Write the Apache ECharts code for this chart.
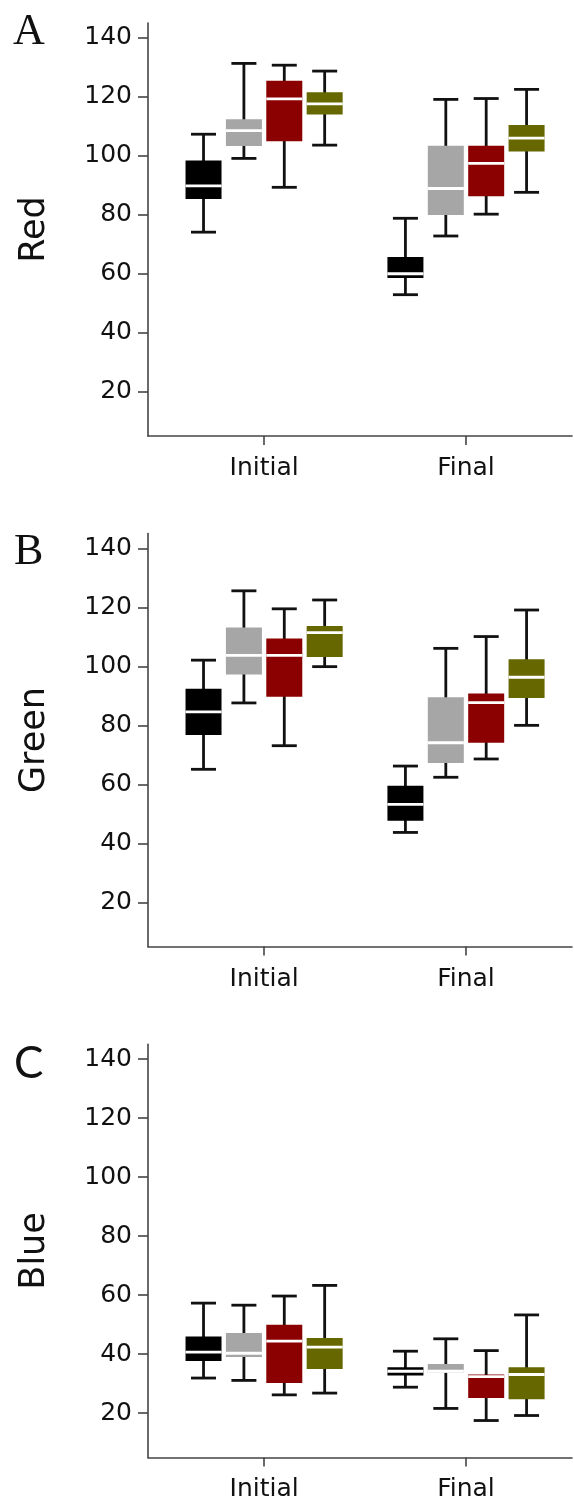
<!DOCTYPE html>
<html>
<head>
<meta charset="utf-8">
<script src="https://cdn.jsdelivr.net/npm/echarts@6.0.0/dist/echarts.min.js"></script>
<style>
  html, body { margin: 0; padding: 0; background: #fff; }
  #main { width: 574px; height: 1508px; }
</style>
</head>
<body>
<div id="main"></div>
<script>
var chart = echarts.init(document.getElementById('main'));

var groups = ['Initial', 'Final'];
var yTicks = [20, 40, 60, 80, 100, 120, 140];
var panelNames = ['Red', 'Green', 'Blue'];
var panelLetters = ['A', 'B', 'C'];

// each row: [min, Q1, median, Q3, max] for Initial, then Final
var redBlack   = [[74.1, 85.3, 89.8, 98.4, 107.3], [52.9, 58.6, 60.0, 65.7, 78.8]];
var redGrey    = [[99.1, 103.3, 108.5, 112.4, 131.3], [72.8, 79.9, 88.9, 103.4, 119.1]];
var redDarkred = [[89.3, 104.9, 119.3, 125.4, 130.7], [80.2, 86.3, 97.4, 103.4, 119.4]];
var redOlive   = [[103.6, 114.0, 117.6, 121.5, 128.7], [87.6, 101.4, 106.0, 110.4, 122.5]];

var greenBlack   = [[65.1, 76.7, 84.6, 92.4, 102.1], [43.7, 47.7, 53.2, 59.5, 66.2]];
var greenGrey    = [[87.6, 97.2, 103.7, 113.2, 125.6], [62.4, 67.2, 74.1, 89.5, 106.1]];
var greenDarkred = [[73.1, 89.7, 103.7, 109.4, 119.5], [68.6, 74.1, 87.7, 90.8, 110.1]];
var greenOlive   = [[99.9, 103.2, 111.4, 113.7, 122.5], [80.0, 89.3, 96.3, 102.4, 119.1]];

var blueBlack   = [[31.9, 37.7, 40.7, 46.0, 57.3], [28.8, 32.8, 34.2, 35.6, 41.0]];
var blueGrey    = [[31.1, 39.0, 40.3, 47.2, 56.6], [21.6, 33.7, 34.2, 36.7, 45.2]];
var blueDarkred = [[26.2, 30.2, 44.4, 50.0, 59.7], [17.5, 25.1, 32.4, 33.1, 41.2]];
var blueOlive   = [[26.8, 35.0, 42.4, 45.5, 63.3], [19.2, 24.7, 33.1, 35.6, 53.3]];

var panelData = [
  [redBlack, redGrey, redDarkred, redOlive],
  [greenBlack, greenGrey, greenDarkred, greenOlive],
  [blueBlack, blueGrey, blueDarkred, blueOlive]
];

var boxColors = ['#000000', '#a6a6a6', '#8b0000', '#676700'];
var boxOffsets = [-0.3, -0.1, 0.1, 0.3];   // in x-axis units, around each group
var gridTops = [23, 533.6, 1044.4];
var labelFont = 'DejaVu Sans';

function renderBox(params, api) {
  var x = api.value(0) + boxOffsets[params.seriesIndex % 4];
  var lo = api.coord([x, api.value(1)]);
  var q1 = api.coord([x, api.value(2)]);
  var md = api.coord([x, api.value(3)]);
  var q3 = api.coord([x, api.value(4)]);
  var hi = api.coord([x, api.value(5)]);
  var cx = lo[0];
  var half = 18, cap = 12.5;
  var ink = { stroke: '#111', lineWidth: 2.8 };
  return {
    type: 'group',
    children: [
      { type: 'line', shape: { x1: cx, y1: hi[1], x2: cx, y2: lo[1] }, style: ink },
      { type: 'line', shape: { x1: cx - cap, y1: hi[1], x2: cx + cap, y2: hi[1] }, style: ink },
      { type: 'line', shape: { x1: cx - cap, y1: lo[1], x2: cx + cap, y2: lo[1] }, style: ink },
      { type: 'rect', shape: { x: cx - half, y: q3[1], width: half * 2, height: q1[1] - q3[1] },
        style: { fill: api.visual('color') } },
      { type: 'line', shape: { x1: cx - half, y1: md[1], x2: cx + half, y2: md[1] },
        style: { stroke: '#ffffff', lineWidth: 2.8 } }
    ]
  };
}

var grids = [], xAxes = [], yAxes = [], series = [], graphics = [];

panelData.forEach(function (sets, p) {
  grids.push({ left: 148, right: 2, top: gridTops[p], height: 413 });
  xAxes.push({
    type: 'value', gridIndex: p, min: 0.425, max: 2.525,
    axisLine: { lineStyle: { color: '#444', width: 1.6 } },
    axisTick: { customValues: [1, 2], length: 9, lineStyle: { color: '#444', width: 1.6 } },
    axisLabel: {
      customValues: [1, 2], margin: 20,
      formatter: function (v) { return groups[Math.round(v) - 1]; },
      fontSize: 25, fontFamily: labelFont, color: '#111'
    },
    splitLine: { show: false }
  });
  yAxes.push({
    type: 'value', gridIndex: p, min: 5, max: 145,
    name: panelNames[p], nameLocation: 'middle', nameGap: 96,
    nameTextStyle: { fontSize: 35, fontFamily: labelFont, color: '#111' },
    axisLine: { show: true, lineStyle: { color: '#444', width: 1.6 } },
    axisTick: { show: true, customValues: yTicks, length: 10, lineStyle: { color: '#444', width: 1.6 } },
    axisLabel: { customValues: yTicks, margin: 16, fontSize: 25, fontFamily: labelFont, color: '#111' },
    splitLine: { show: false }
  });
  sets.forEach(function (rows, s) {
    series.push({
      type: 'custom', xAxisIndex: p, yAxisIndex: p,
      itemStyle: { color: boxColors[s] },
      encode: { x: 0, y: [1, 2, 3, 4, 5] },
      renderItem: renderBox,
      data: rows.map(function (r, i) { return [i + 1].concat(r); })
    });
  });
});

graphics = [
  { type: 'text', x: 13, y: 32, style: { text: panelLetters[0], font: '44px "Liberation Serif"', fill: '#111', align: 'left', verticalAlign: 'middle' } },
  { type: 'text', x: 14, y: 552, style: { text: panelLetters[1], font: '44px "Liberation Serif"', fill: '#111', align: 'left', verticalAlign: 'middle' } },
  { type: 'text', x: 14, y: 1064, style: { text: panelLetters[2], font: '44px Lato', fill: '#111', align: 'left', verticalAlign: 'middle' } }
];

chart.setOption({
  animation: false,
  backgroundColor: '#ffffff',
  grid: grids,
  xAxis: xAxes,
  yAxis: yAxes,
  graphic: graphics,
  series: series
});
</script>
</body>
</html>
